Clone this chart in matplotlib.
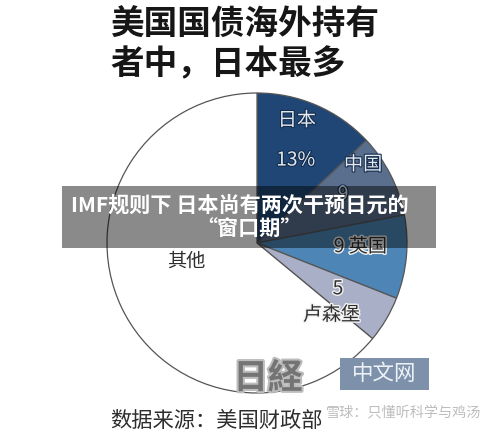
import matplotlib
matplotlib.use("Agg")
import matplotlib.pyplot as plt
import matplotlib.patheffects as pe
from matplotlib.patches import Rectangle
import numpy as np

plt.rcParams['font.family'] = ['Noto Sans CJK SC', 'DejaVu Sans']

# ---- data ----
categories = ['日本', '中国', '英国', '卢森堡', '其他']
values = [13, 9, 9, 5, 64]
value_labels = ['13%', '9', '9', '5', '']
colors = ['#1f4674', '#5a6e8e', '#4d85b6', '#a9afc6', '#ffffff']

title_lines = ['美国国债海外持有', '者中，日本最多']
banner_lines = ['IMF规则下 日本尚有两次干预日元的', '“窗口期”']
source_text = '数据来源：美国财政部'
faint_text = '雪球：只懂听科学与鸡汤'

W, H = 500, 436
fig = plt.figure(figsize=(W / 100, H / 100), dpi=100)
fig.patch.set_facecolor('white')

# pie axes: centre (257,243) px, radius 153 px
cx, cy, r = 257, 243, 153
pax = fig.add_axes([(cx - r) / W, (H - cy - r) / H, 2 * r / W, 2 * r / H])
pax.axis('off')
wedges, _ = pax.pie(values, colors=colors, startangle=90, counterclock=False,
                    radius=1.0,
                    wedgeprops=dict(edgecolor='#555555', linewidth=0.9))
pax.set_xlim(-1.02, 1.02)
pax.set_ylim(-1.02, 1.02)
pax.set_aspect('equal')


def polar(ang, rad):
    a = np.deg2rad(ang)
    return rad * np.cos(a), rad * np.sin(a)


light = dict(color='#e3e9f1', path_effects=[pe.withStroke(linewidth=1.6, foreground='#142c4c')])
dark = dict(color='#2e2e2e', path_effects=[pe.withStroke(linewidth=2, foreground='#f2f2f2')])
fs = 13.8

# Japan
x, y = polar(72, 0.86)
pax.text(x, y, categories[0], ha='center', va='center', fontsize=fs, **light)
x, y = polar(65, 0.61)
pax.text(x, y, value_labels[0], ha='center', va='center', fontsize=fs, **light)
# China
x, y = polar(36.5, 0.88)
pax.text(x, y, categories[1], ha='center', va='center', fontsize=fs, **light)
x, y = polar(29.5, 0.66)
pax.text(x, y, value_labels[1], ha='center', va='center', fontsize=fs, **light)
# UK
x, y = polar(-2, 0.69)
pax.text(x, y, value_labels[2] + ' ' + categories[2], ha='center', va='center', fontsize=fs, **dark)
# Luxembourg
x, y = polar(-29.5, 0.62)
pax.text(x, y, value_labels[3], ha='center', va='center', fontsize=fs, **dark)
x, y = polar(-44, 0.69)
pax.text(x, y, categories[3], ha='center', va='center', fontsize=fs, **dark)
# Others
x, y = polar(194.8, 0.485)
pax.text(x, y, categories[4], ha='center', va='center', fontsize=fs, color='#2e2e2e')

# ---- overlay elements (on top) ----
top = fig.add_axes([0, 0, 1, 1])
top.set_xlim(0, W)
top.set_ylim(H, 0)
top.axis('off')
top.patch.set_alpha(0)

# title
top.text(110, 25, title_lines[0], ha='left', va='center', fontsize=24.2,
         color='#161616', fontweight='bold')
top.text(110, 64, title_lines[1], ha='left', va='center', fontsize=24.2,
         color='#161616', fontweight='bold')

# banner
top.add_patch(Rectangle((62, 186), 374, 62, facecolor='black', alpha=0.46,
                        edgecolor='none'))
top.text(240, 205, banner_lines[0], ha='center', va='center', fontsize=15.2,
         color='white', fontweight='bold')
top.text(249, 229, banner_lines[1], ha='center', va='center', fontsize=15.2,
         color='white', fontweight='bold')

# logo
top.text(268, 378, '日経', ha='center', va='center', fontsize=25, color='#747474',
         fontweight='bold',
         path_effects=[pe.withStroke(linewidth=3, foreground='#bdbdbd')])
top.add_patch(Rectangle((340, 358), 89, 32, facecolor='#7d91ab', edgecolor='none'))
top.text(384.5, 374, '中文网', ha='center', va='center', fontsize=15.5, color='#eef2f7')

# source
top.text(110, 421, source_text, ha='left', va='center', fontsize=15.3, color='#2e2e2e')
top.text(326, 413, faint_text, ha='left', va='center', fontsize=10.2, color='#bdbdbd')

fig.savefig('out.png', dpi=100, facecolor='white')
